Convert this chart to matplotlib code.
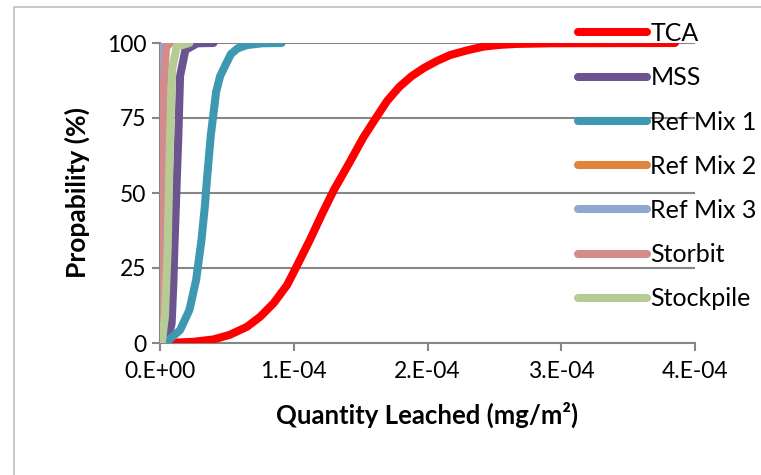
import matplotlib
matplotlib.use("Agg")
import matplotlib.pyplot as plt
from matplotlib.patches import Rectangle
from matplotlib.ticker import FuncFormatter

plt.rcParams['font.family'] = ['Lato', 'DejaVu Sans']

# data (x in mg/m2, y in %)
tca_x = [0.05e-4, 0.25e-4, 0.40e-4, 0.52e-4, 0.65e-4, 0.75e-4, 0.85e-4, 0.95e-4,
         1.02e-4, 1.12e-4, 1.22e-4, 1.30e-4, 1.42e-4, 1.52e-4, 1.62e-4, 1.70e-4,
         1.79e-4, 1.88e-4, 1.97e-4, 2.07e-4, 2.17e-4, 2.30e-4, 2.42e-4, 2.55e-4,
         2.67e-4, 2.92e-4, 3.85e-4]
tca_y = [0, 0.4, 1.2, 2.7, 5.4, 8.8, 13.3, 19.3,
         25.4, 34.3, 43.8, 51, 60.4, 68.5, 75.4, 80.8,
         85.4, 88.9, 91.6, 94.0, 96, 97.6, 98.8, 99.4,
         99.7, 99.9, 100]

mss_x = [0.05e-4, 0.087e-4, 0.10e-4, 0.107e-4, 0.122e-4, 0.137e-4, 0.15e-4,
         0.19e-4, 0.28e-4, 0.40e-4]
mss_y = [0, 6.5, 20, 31, 50, 69, 89, 97.7, 99.9, 100]

mix1_x = [0.04e-4, 0.15e-4, 0.22e-4, 0.27e-4, 0.31e-4, 0.335e-4, 0.35e-4,
          0.38e-4, 0.42e-4, 0.45e-4, 0.49e-4, 0.53e-4, 0.58e-4, 0.65e-4,
          0.76e-4, 0.91e-4]
mix1_y = [0, 4.3, 11, 21, 34.3, 45.4, 54, 69.3, 83.8, 89, 92.7, 96.3, 98.2, 99.3,
          99.9, 100]

mix2_x = [0.0, 0.002e-4, 0.004e-4, 0.006e-4]
mix2_y = [0, 40, 90, 100]

mix3_x = [0.0, 0.002e-4, 0.004e-4, 0.006e-4]
mix3_y = [0, 40, 90, 100]

storbit_x = [0.005e-4, 0.012e-4, 0.02e-4, 0.028e-4, 0.045e-4, 0.075e-4]
storbit_y = [0, 10, 50, 85, 98.5, 100]

stock_x = [0.013e-4, 0.037e-4, 0.057e-4, 0.066e-4, 0.075e-4, 0.092e-4,
           0.125e-4, 0.22e-4]
stock_y = [0, 8.8, 31, 50, 69, 91.6, 98.8, 100]

series = [
    ("TCA", tca_x, tca_y, "#FF0000"),
    ("MSS", mss_x, mss_y, "#6B5490"),
    ("Ref Mix 1", mix1_x, mix1_y, "#3F98B2"),
    ("Ref Mix 2", mix2_x, mix2_y, "#E0843E"),
    ("Ref Mix 3", mix3_x, mix3_y, "#8FA8CE"),
    ("Storbit", storbit_x, storbit_y, "#D28C8B"),
    ("Stockpile", stock_x, stock_y, "#B6CC94"),
]

x_ticks = [0, 1e-4, 2e-4, 3e-4, 4e-4]
y_ticks = [0, 25, 50, 75, 100]

grey = "#868686"

fig = plt.figure(figsize=(7.61, 4.75), dpi=100)
fig.patches.append(Rectangle((14 / 761, -0.1), 1.0, 1.1 - 7 / 475,
                             transform=fig.transFigure, fill=False,
                             edgecolor="#BFBFBF", linewidth=1.2))

ax = fig.add_axes([160 / 761, 132 / 475, 535 / 761, 300 / 475])

for name, xs, ys, col in series:
    ax.plot(xs, ys, color=col, linewidth=5.8, label=name,
            solid_capstyle='round', solid_joinstyle='round', zorder=3)

ax.set_xlim(0, 4e-4)
ax.set_ylim(0, 100)
ax.set_xticks(x_ticks)
ax.set_yticks(y_ticks)
ax.xaxis.set_major_formatter(FuncFormatter(lambda v, _: f"{v:.0e}".replace('e', '.E').upper()))

ax.yaxis.grid(True, color=grey, linewidth=1.5)
ax.set_axisbelow(True)
for s in ['top', 'right']:
    ax.spines[s].set_visible(False)
for s in ['left', 'bottom']:
    ax.spines[s].set_color(grey)
    ax.spines[s].set_linewidth(1.5)
ax.tick_params(axis='both', colors=grey, width=1.5, length=6, labelsize=16.5,
               labelcolor='black')
ax.tick_params(axis='x', pad=7)
ax.tick_params(axis='y', pad=4)

ax.set_xlabel("Quantity Leached (mg/m²)", fontsize=18.5, fontweight='bold', labelpad=14)
ax.set_ylabel("Propability (%)", fontsize=19, fontweight='bold', labelpad=12)

fig.legend(loc='upper left', bbox_to_anchor=(578 / 761, 1 - 22 / 475),
           frameon=False, fontsize=18, borderpad=0, borderaxespad=0,
           handlelength=2.75, handletextpad=0.15, labelspacing=0.85)

fig.savefig("out.png", dpi=100)
